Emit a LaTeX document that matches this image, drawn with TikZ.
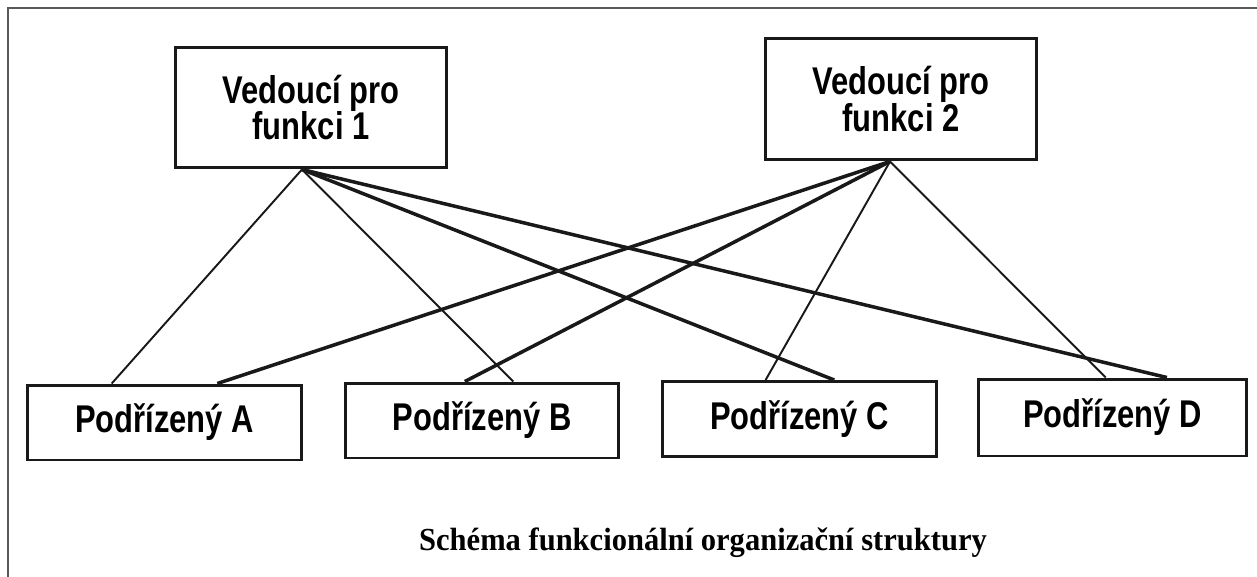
\documentclass[tikz,border=0pt]{standalone}
\usepackage{fontspec}
\newfontfamily\boxfont[FakeStretch=0.80]{Liberation Sans}
\newfontfamily\capfont[FakeStretch=0.95]{Liberation Serif}
\usetikzlibrary{positioning,calc}

\begin{document}
\begin{tikzpicture}[x=0.02cm,y=-0.02cm,
    box/.style={draw=black!90,line width=1.7pt,inner sep=0pt,align=center,
      font=\boxfont\fontsize{22}{21}\selectfont\bfseries},
    tie/.style={draw=black!90,line width=1.1pt},
    heavytie/.style={draw=black!90,line width=2pt}]
    \useasboundingbox (0,0) rectangle (1257,577);
    \draw[black!65,line width=0.8pt] (8,577) -- (8,8) -- (1257,8);

    \node[box,minimum width=5.44cm,minimum height=2.42cm] (f1) at (311,107.5) {Vedoucí pro\\funkci 1};
    \node[box,minimum width=5.44cm,minimum height=2.44cm] (f2) at (901,99) {Vedoucí pro\\funkci 2};

    \node[box,minimum width=5.5cm,minimum height=1.5cm] (pa) at (164.5,422.5) {Podřízený A};
    \node[box,minimum width=5.48cm,minimum height=1.5cm] (pb) at (482,420.5) {Podřízený B};
    \node[box,minimum width=5.5cm,minimum height=1.5cm] (pc) at (799.5,419) {Podřízený C};
    \node[box,minimum width=5.38cm,minimum height=1.54cm] (pd) at (1112.5,417.5) {Podřízený D};

    \coordinate (f1b) at ($(f1.south)+(-9,0)$);
    \coordinate (f2b) at ($(f2.south)+(-11,0)$);

    \draw[tie] (f1b) -- ($(pa.north west)!0.31!(pa.north east)$);
    \draw[tie] (f1b) -- ($(pb.north west)!0.613!(pb.north east)$);
    \draw[heavytie] (f1b) -- ($(pc.north west)!0.625!(pc.north east)$);
    \draw[heavytie] (f1b) -- ($(pd.north west)!0.70!(pd.north east)$);
    \draw[heavytie] (f2b) -- ($(pa.north west)!0.69!(pa.north east)$);
    \draw[heavytie] (f2b) -- ($(pb.north west)!0.438!(pb.north east)$);
    \draw[tie] (f2b) -- ($(pc.north west)!0.378!(pc.north east)$);
    \draw[tie] (f2b) -- ($(pd.north west)!0.475!(pd.north east)$);

    \node[anchor=base,font=\capfont\fontsize{18.3}{22}\selectfont\bfseries] (caption) at (703,550) {Schéma funkcionální organizační struktury};
\end{tikzpicture}
\end{document}
